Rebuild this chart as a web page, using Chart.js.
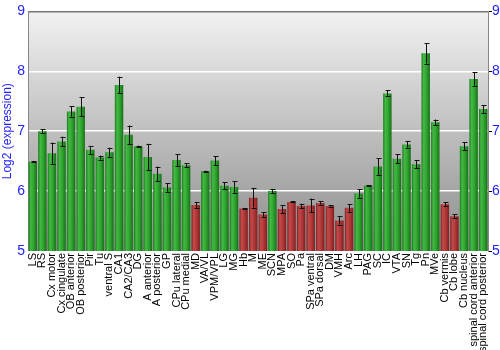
<!DOCTYPE html>
<html>
<head>
<meta charset="utf-8">
<script src="https://cdn.jsdelivr.net/npm/chart.js@4"></script>
<style>
  html, body { margin: 0; padding: 0; background: #fff; }
  #wrap { width: 500px; height: 350px; }
</style>
</head>
<body>
<div id="wrap"><canvas id="expr"></canvas></div>
<script>
const regions = ['LS', 'RS', 'Cx motor', 'Cx cingulate', 'OB anterior', 'OB posterior', 'Pir', 'Tu',
  'ventral S', 'CA1', 'CA2/CA3', 'DG', 'A anterior', 'A posterior', 'GP', 'CPu lateral', 'CPu medial',
  'MD', 'VA/VL', 'VPM/VPL', 'LG', 'MG', 'Hb', 'M', 'ME', 'SCN', 'MPA', 'SO', 'Pa', 'SPa ventral',
  'SPa dorsal', 'DM', 'VMH', 'Arc', 'LH', 'PAG', 'SC', 'IC', 'VTA', 'SN', 'Tg', 'Pn', 'MVe',
  'Cb vermis', 'Cb lobe', 'Cb nucleus', 'spinal cord anterior', 'spinal cord posterior'];

const expression = [6.49, 7.00, 6.63, 6.83, 7.33, 7.41, 6.69, 6.56, 6.65, 7.77, 6.94, 6.75, 6.57, 6.29,
  6.06, 6.52, 6.43, 5.77, 6.33, 6.51, 6.09, 6.07, 5.71, 5.89, 5.61, 6.00, 5.70, 5.82, 5.75, 5.76,
  5.80, 5.75, 5.51, 5.72, 5.96, 6.09, 6.41, 7.63, 6.54, 6.78, 6.45, 8.30, 7.15, 5.78, 5.58, 6.75,
  7.87, 7.37];

// +/- error on each bar
const errors = [0.01, 0.03, 0.18, 0.08, 0.085, 0.155, 0.067, 0.033, 0.075, 0.14, 0.155, 0.01, 0.22,
  0.12, 0.07, 0.1, 0.035, 0.05, 0.01, 0.075, 0.06, 0.1, 0.01, 0.165, 0.04, 0.035, 0.07, 0.01, 0.04,
  0.115, 0.03, 0.01, 0.07, 0.065, 0.07, 0.01, 0.14, 0.05, 0.075, 0.055, 0.065, 0.17, 0.045, 0.035,
  0.033, 0.07, 0.11, 0.065];

const yTicks = [5, 6, 7, 8, 9];

function barFill(context) {
  const chart = context.chart;
  const low = expression[context.dataIndex] < 5.92;
  const flat = low ? '#b33a3a' : '#2fa32f';
  const xs = chart.scales.x;
  if (!xs || !chart.chartArea) return flat;
  const cx = xs.getPixelForValue(context.dataIndex);
  const w = (xs.width / regions.length) * 0.88;
  const g = chart.ctx.createLinearGradient(cx - w / 2, 0, cx + w / 2, 0);
  if (low) {
    g.addColorStop(0, '#7a1f1f');
    g.addColorStop(0.25, '#c24a4a');
    g.addColorStop(0.6, '#b23838');
    g.addColorStop(1, '#7f1f1f');
  } else {
    g.addColorStop(0, '#1a7a1a');
    g.addColorStop(0.25, '#45b845');
    g.addColorStop(0.6, '#2ea42e');
    g.addColorStop(1, '#167016');
  }
  return g;
}

const plotBackground = {
  id: 'plotBackground',
  beforeDraw(chart) {
    const {ctx, chartArea: a} = chart;
    ctx.save();
    const g = ctx.createLinearGradient(0, a.top, 0, a.bottom);
    g.addColorStop(0, '#f2f2f2');
    g.addColorStop(1, '#8c8c8c');
    ctx.fillStyle = g;
    ctx.fillRect(a.left, a.top, a.right - a.left, a.bottom - a.top);
    ctx.restore();
  }
};

const errorBars = {
  id: 'errorBars',
  afterDatasetsDraw(chart) {
    const {ctx} = chart;
    const meta = chart.getDatasetMeta(0);
    const y = chart.scales.y;
    ctx.save();
    ctx.strokeStyle = '#111';
    ctx.lineWidth = 1;
    meta.data.forEach((bar, i) => {
      const x = Math.round(bar.x) + 0.5;
      const top = y.getPixelForValue(expression[i] + errors[i]);
      const bot = y.getPixelForValue(expression[i] - errors[i]);
      ctx.beginPath();
      ctx.moveTo(x, top);
      ctx.lineTo(x, bot);
      ctx.moveTo(x - 2, Math.round(top) + 0.5);
      ctx.lineTo(x + 3, Math.round(top) + 0.5);
      ctx.moveTo(x - 2, Math.round(bot) + 0.5);
      ctx.lineTo(x + 3, Math.round(bot) + 0.5);
      ctx.stroke();
    });
    ctx.restore();
  }
};

new Chart(document.getElementById('expr'), {
  type: 'bar',
  data: {
    labels: regions,
    datasets: [{
      data: expression,
      backgroundColor: barFill,
      borderWidth: 0,
      barPercentage: 0.88,
      categoryPercentage: 1.0
    }]
  },
  options: {
    responsive: true,
    maintainAspectRatio: false,
    animation: false,
    layout: { padding: { top: 10, left: 0, right: 0, bottom: 0 } },
    plugins: {
      legend: { display: false },
      tooltip: { enabled: false }
    },
    scales: {
      x: {
        grid: { display: false, drawTicks: false },
        border: { display: false },
        ticks: {
          autoSkip: false,
          maxRotation: 90,
          minRotation: 90,
          padding: 2,
          color: '#000',
          font: { family: 'Liberation Sans', size: 11 }
        },
        afterFit(scale) { scale.height = 99; }
      },
      y: {
        min: 5,
        max: 9,
        afterBuildTicks(scale) { scale.ticks = yTicks.map(v => ({value: v})); },
        grid: {
          color: ctx => ctx.tick && ctx.tick.value === 9 ? '#777' : '#ffffff',
          lineWidth: ctx => ctx.tick && (ctx.tick.value === 5) ? 0 : 1.5,
          drawTicks: false
        },
        border: { display: true, color: '#888', width: 1 },
        ticks: {
          color: '#1f1fff',
          padding: 3,
          font: { family: 'Liberation Sans', size: 14 }
        },
        title: {
          display: true,
          text: 'Log2 (expression)',
          color: '#1f1fff',
          padding: 0,
          font: { family: 'Liberation Sans', size: 12 }
        },
        afterFit(scale) { scale.width = 28; }
      },
      y2: {
        position: 'right',
        min: 5,
        max: 9,
        afterBuildTicks(scale) { scale.ticks = yTicks.map(v => ({value: v})); },
        grid: { drawOnChartArea: false, drawTicks: true, tickLength: 4, color: '#000' },
        border: { display: true, color: '#888', width: 1 },
        ticks: {
          color: '#1f1fff',
          padding: 0,
          font: { family: 'Liberation Sans', size: 14 }
        },
        afterFit(scale) { scale.width = 12; }
      }
    }
  },
  plugins: [plotBackground, errorBars]
});
</script>
</body>
</html>
